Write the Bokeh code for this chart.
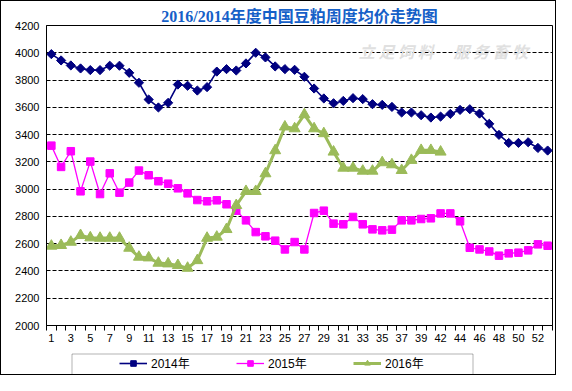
import math
from bokeh.plotting import figure
from bokeh.layouts import column
from bokeh.models import FixedTicker, Legend, LegendItem, Label, BoxAnnotation, Range1d
from bokeh.embed import file_html
from bokeh.resources import INLINE

# ---------------- data ----------------
weeks = [str(w) for w in list(range(1, 41)) + list(range(42, 54))]

p2014 = [3990, 3944, 3907, 3885, 3873, 3873, 3905, 3905, 3853, 3780,
         3657, 3599, 3633, 3767, 3758, 3723, 3748, 3862, 3880, 3870,
         3922, 4000, 3966, 3900, 3880, 3875, 3824, 3738, 3665, 3630,
         3647, 3667, 3660, 3623, 3618, 3603, 3562, 3562, 3542, 3525,
         3532, 3552, 3581, 3586, 3554, 3479, 3398, 3339, 3339, 3344,
         3302, 3283]

p2015 = [3319, 3163, 3278, 2984, 3202, 2964, 3116, 2974, 3048, 3136,
         3102, 3058, 3040, 3006, 2969, 2920, 2911, 2918, 2889, 2842,
         2771, 2685, 2654, 2622, 2558, 2612, 2558, 2825, 2842, 2747,
         2742, 2796, 2742, 2705, 2698, 2703, 2771, 2771, 2781, 2786,
         2822, 2822, 2764, 2570, 2558, 2543, 2512, 2529, 2534, 2551,
         2595, 2585]

p2016 = [2583, 2588, 2612, 2661, 2644, 2641, 2641, 2641, 2568, 2502,
         2497, 2458, 2453, 2441, 2421, 2477, 2641, 2649, 2705, 2881,
         2984, 2984, 3114, 3283, 3457, 3444, 3547, 3444, 3408, 3273,
         3155, 3155, 3133, 3133, 3195, 3180, 3138, 3212, 3285, 3285,
         3273]

series_names = ["2014年", "2015年", "2016年"]
y_ticks = [2000, 2200, 2400, 2600, 2800, 3000, 3200, 3400, 3600, 3800, 4000, 4200]
title_text = "2016/2014年度中国豆粕周度均价走势图"
watermark = "立\u00a0足\u00a0饲\u00a0料\u3000\u00a0服\u00a0务\u00a0畜\u00a0牧"

# series styles
colors = ["#000080", "#FF00FF", "#9BBB59"]
line_widths = [1.6, 1.3, 3]
markers = ["square", "square", "triangle"]
marker_sizes = [6.5, 7.5, 11]
marker_angles = [math.pi / 4, 0, 0]

# ---------------- main figure ----------------
W = 554
H1, H2 = 348, 25
n = len(weeks)
p1 = figure(width=W, height=H1, x_range=(-0.5, n - 0.5), y_range=(y_ticks[0], y_ticks[-1]),
            output_backend="svg", toolbar_location=None,
            min_border_left=45, min_border_right=3, min_border_top=24, min_border_bottom=24,
            title=title_text)
p1.background_fill_color = "white"
p1.border_fill_color = "white"
p1.outline_line_color = "black"
p1.outline_line_width = 1

p1.title.align = "center"
p1.title.text_font = "Liberation Serif, Noto Sans CJK SC"
p1.title.text_font_size = "16px"
p1.title.text_font_style = "bold"
p1.title.text_color = "#1560C8"
p1.title.standoff = 2
p1.title.offset = 0

p1.xgrid.visible = False
p1.ygrid.ticker = FixedTicker(ticks=y_ticks)
p1.ygrid.grid_line_color = "black"
p1.ygrid.grid_line_dash = "4 2"
p1.ygrid.grid_line_width = 1

ya = p1.yaxis[0]
ya.ticker = FixedTicker(ticks=y_ticks)
ya.major_tick_line_color = None
ya.minor_tick_line_color = None
ya.major_tick_out = 0
ya.major_tick_in = 0
ya.axis_line_color = "black"
ya.major_label_text_font = "Liberation Sans"
ya.major_label_text_font_size = "11px"
ya.major_label_text_color = "black"
ya.major_label_standoff = 7

xs = list(range(n))
label_idx = list(range(0, n, 2))
xa = p1.xaxis[0]
xa.ticker = FixedTicker(ticks=label_idx, minor_ticks=[i - 0.5 for i in range(n + 1)])
xa.major_label_overrides = {i: weeks[i] for i in label_idx}
xa.major_tick_line_color = None
xa.major_tick_out = 5
xa.major_tick_in = 0
xa.minor_tick_line_color = "black"
xa.minor_tick_out = 5
xa.minor_tick_in = 0
xa.axis_line_color = "black"
xa.major_label_text_font = "Liberation Sans"
xa.major_label_text_font_size = "11px"
xa.major_label_text_color = "black"
xa.major_label_standoff = 3

p1.add_layout(Label(x=31.6, y=4010, text=watermark, text_baseline="middle",
                    text_font="Noto Sans CJK SC", text_font_size="16px",
                    text_font_style="bold italic", text_color="#e0e0e0"))

series = [p2014, p2015, p2016]
for k, vals in enumerate(series):
    xk = xs[:len(vals)]
    p1.line(xk, vals, line_color=colors[k], line_width=line_widths[k], line_join="round")
    p1.scatter(xk, vals, marker=markers[k], angle=marker_angles[k], size=marker_sizes[k],
               fill_color=colors[k], line_color=colors[k])

# ---------------- legend strip ----------------
# frame of this strip is aligned with the main frame (506 px wide), 1 data unit = 1 px
FW = W - 45 - 3
p2 = figure(width=W, height=H2, x_range=Range1d(0, FW), y_range=Range1d(0, H2),
            output_backend="svg", toolbar_location=None,
            min_border_left=45, min_border_right=3, min_border_top=0, min_border_bottom=0)
p2.axis.visible = False
p2.grid.visible = False
p2.outline_line_color = None
p2.background_fill_color = "white"
p2.border_fill_color = "white"

items = []
for k, name in enumerate(series_names):
    vals = series[k]
    xk = xs[:len(vals)]
    # proxies: same styles; their data lie far outside this strip's ranges
    lr = p2.line(xk, vals, line_color=colors[k], line_width=line_widths[k])
    sr = p2.scatter(xk, vals, marker=markers[k], angle=marker_angles[k], size=marker_sizes[k],
                    fill_color=colors[k], line_color=colors[k])
    items.append(LegendItem(label=name, renderers=[lr, sr], index=0))

legend = Legend(items=items, orientation="horizontal", location=(73, 3))
legend.border_line_alpha = 0
legend.background_fill_alpha = 0
legend.padding = 0
legend.margin = 0
legend.spacing = 45
legend.glyph_width = 28
legend.glyph_height = 14
legend.label_width = 40
legend.label_standoff = 4
legend.label_text_font = "Liberation Sans, Noto Sans CJK SC"
legend.label_text_font_size = "12px"
legend.label_text_color = "black"
p2.add_layout(legend)

p2.add_layout(BoxAnnotation(left=25.5, right=426.5, bottom=-5, top=H2 - 4.5,
                            fill_alpha=0, line_color="black", line_width=1))

layout = column(p1, p2, spacing=0, styles={"border": "1px solid black"})

open("out.html", "w").write(file_html(layout, INLINE))
